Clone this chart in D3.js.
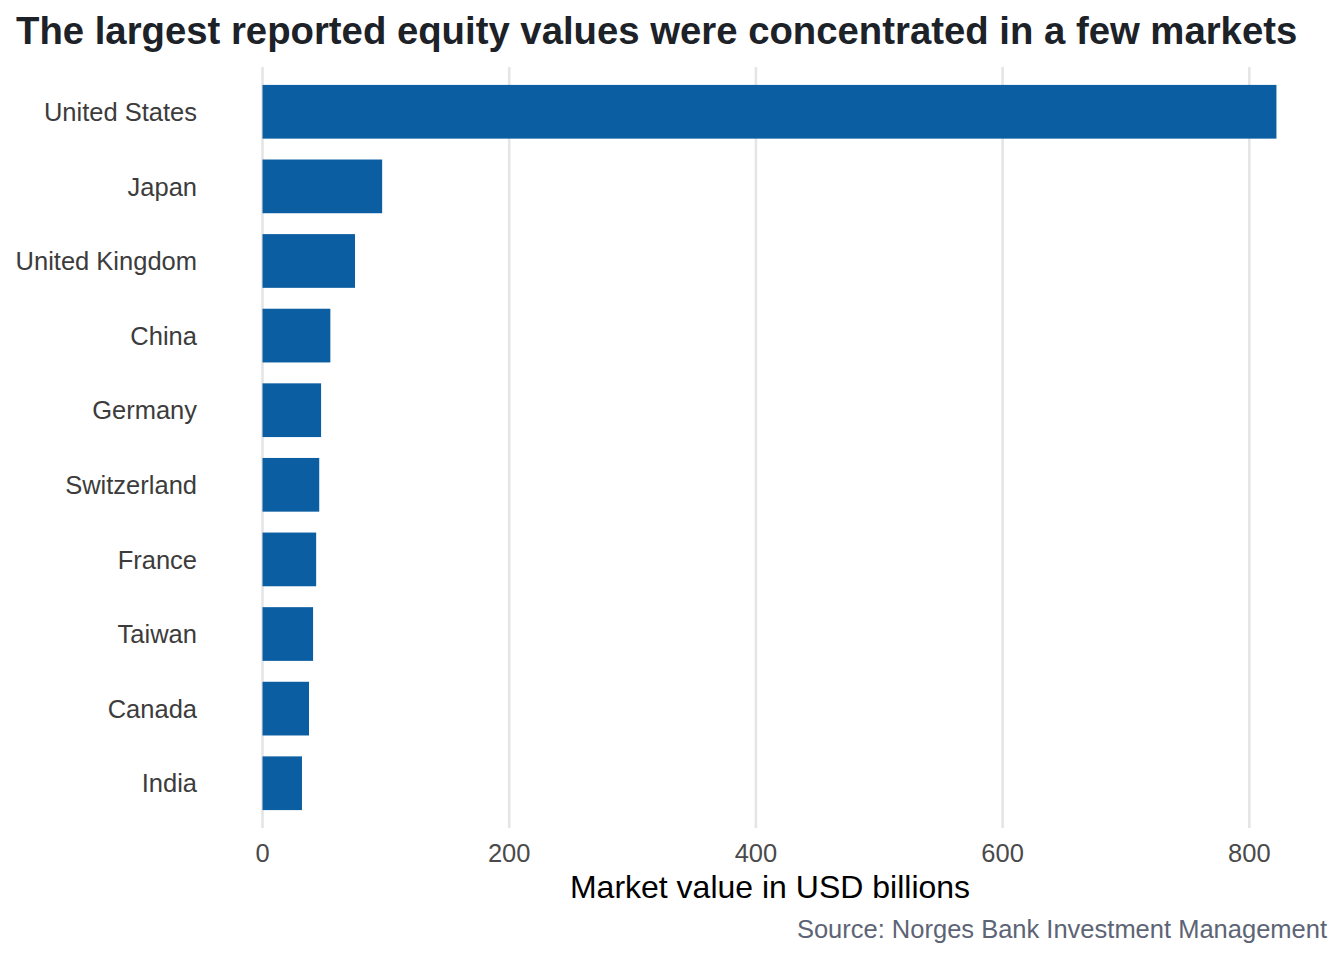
<!DOCTYPE html>
<html>
<head>
<meta charset="utf-8">
<script src="https://cdn.jsdelivr.net/npm/d3@7"></script>
<style>
  html, body { margin: 0; padding: 0; background: #ffffff; }
  svg { display: block; font-family: "Liberation Sans", Arial, Helvetica, sans-serif; }
</style>
</head>
<body>
<svg id="chart" width="1344" height="960"></svg>
<script>
const countries = ["United States", "Japan", "United Kingdom", "China", "Germany",
                   "Switzerland", "France", "Taiwan", "Canada", "India"];
const values = [822, 97, 75, 55, 47.5, 46, 43.5, 41, 37.7, 32];
const xTicks = [0, 200, 400, 600, 800];

const titleText = "The largest reported equity values were concentrated in a few markets";
const xAxisTitle = "Market value in USD billions";
const captionText = "Source: Norges Bank Investment Management";

const svg = d3.select("#chart");

const x = d3.scaleLinear().domain([0, 800]).range([262.5, 1249.3]);
const y = d3.scaleBand().domain(countries).range([67, 828])
  .paddingInner(0.28).paddingOuter(0.24);

// gridlines
svg.append("g").selectAll("line").data(xTicks).join("line")
  .attr("x1", d => x(d)).attr("x2", d => x(d))
  .attr("y1", 67).attr("y2", 828)
  .attr("stroke", "#e5e5e5").attr("stroke-width", 2.6);

// bars
svg.append("g").selectAll("rect").data(countries).join("rect")
  .attr("x", x(0))
  .attr("y", d => y(d))
  .attr("width", (d, i) => x(values[i]) - x(0))
  .attr("height", y.bandwidth())
  .attr("fill", "#0b5ea1");

// y labels
svg.append("g").selectAll("text").data(countries).join("text")
  .attr("x", 197).attr("y", d => y(d) + y.bandwidth() / 2)
  .attr("dy", "0.36em")
  .attr("text-anchor", "end")
  .attr("font-size", 25.5)
  .attr("fill", "#3c3c3c")
  .text(d => d);

// x tick labels
svg.append("g").selectAll("text").data(xTicks).join("text")
  .attr("x", d => x(d)).attr("y", 862)
  .attr("text-anchor", "middle")
  .attr("font-size", 25.5)
  .attr("fill", "#4a4a4a")
  .text(d => d);

// axis title
svg.append("text")
  .attr("x", 770).attr("y", 897.5)
  .attr("text-anchor", "middle")
  .attr("font-size", 32)
  .attr("fill", "#000000")
  .text(xAxisTitle);

// title
svg.append("text")
  .attr("x", 16).attr("y", 44)
  .attr("font-size", 38.3)
  .attr("font-weight", "bold")
  .attr("fill", "#1d2229")
  .text(titleText);

// caption
svg.append("text")
  .attr("x", 1327).attr("y", 938)
  .attr("text-anchor", "end")
  .attr("font-size", 25.5)
  .attr("fill", "#5d6475")
  .text(captionText);
</script>
</body>
</html>
